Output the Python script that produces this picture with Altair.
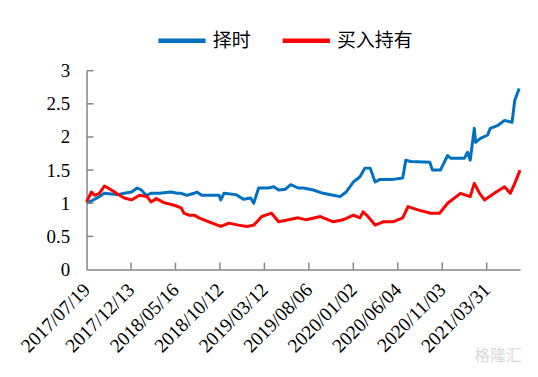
import altair as alt
import pandas as pd

# trading-day index (x) and net value readings for each series
timing_day = [0, 7, 18, 29, 40, 56, 69, 85, 101, 114, 123, 134, 145, 163, 190, 204, 213, 226,
              242, 248, 259, 275, 298, 302, 309, 336, 353, 369, 376, 387, 409, 421, 432, 447,
              459, 476, 488, 510, 532, 555, 570, 584, 600, 615, 626, 638, 649, 660, 689, 711,
              718, 729, 772, 778, 796, 812, 819, 850, 857, 863, 872, 875, 886, 902, 908, 924,
              940, 957, 963, 973]
timing_val = [1.00, 1.02, 1.06, 1.10, 1.15, 1.14, 1.13, 1.15, 1.17, 1.23, 1.20, 1.12, 1.15, 1.15,
              1.17, 1.15, 1.15, 1.12, 1.15, 1.17, 1.12, 1.12, 1.12, 1.05, 1.15, 1.13, 1.06, 1.08,
              1.00, 1.23, 1.23, 1.25, 1.20, 1.21, 1.28, 1.23, 1.23, 1.20, 1.15, 1.12, 1.10, 1.17,
              1.32, 1.40, 1.53, 1.53, 1.32, 1.36, 1.36, 1.38, 1.65, 1.63, 1.62, 1.50, 1.50, 1.72,
              1.68, 1.68, 1.77, 1.65, 2.13, 1.92, 1.98, 2.03, 2.13, 2.17, 2.25, 2.22, 2.55, 2.73]

hold_day = [0, 11, 18, 29, 40, 51, 63, 74, 85, 101, 119, 136, 145, 157, 174, 197, 213, 219,
            230, 242, 253, 275, 302, 320, 342, 360, 376, 394, 416, 432, 454, 476, 494, 526,
            555, 577, 600, 615, 622, 633, 649, 667, 689, 711, 723, 745, 774, 794, 812, 841,
            863, 872, 884, 895, 917, 940, 953, 963, 975]
hold_val = [1.02, 1.17, 1.12, 1.15, 1.26, 1.22, 1.17, 1.12, 1.08, 1.05, 1.12, 1.10, 1.02, 1.07,
            1.01, 0.97, 0.93, 0.85, 0.82, 0.82, 0.78, 0.72, 0.65, 0.70, 0.67, 0.65, 0.67, 0.80,
            0.85, 0.72, 0.75, 0.78, 0.75, 0.80, 0.72, 0.75, 0.82, 0.78, 0.87, 0.80, 0.67, 0.72,
            0.72, 0.78, 0.95, 0.90, 0.85, 0.85, 1.00, 1.15, 1.10, 1.30, 1.15, 1.05, 1.15, 1.25,
            1.15, 1.30, 1.50]

series_names = ["择时", "买入持有"]
series_colors = ["#0070C0", "#FF0000"]

tick_days = [0, 100, 200, 300, 400, 500, 600, 700, 800, 900]
tick_labels = ["2017/07/19", "2017/12/13", "2018/05/16", "2018/10/12", "2019/03/12",
               "2019/08/06", "2020/01/02", "2020/06/04", "2020/11/03", "2021/03/31"]
y_ticks = [0, 0.5, 1, 1.5, 2, 2.5, 3]

df = pd.concat([
    pd.DataFrame({"day": timing_day, "value": timing_val, "series": series_names[0], "order": 0}),
    pd.DataFrame({"day": hold_day, "value": hold_val, "series": series_names[1], "order": 1}),
])

label_expr = "[" + ",".join(f"'{s}'" for s in tick_labels) + "][round(datum.value/100)]"
serif = "'Liberation Serif', 'Times New Roman', serif"

x_scale = alt.Scale(domain=[0, 975], nice=False, zero=False)
y_scale = alt.Scale(domain=[0, 3], nice=False)

x_axis = alt.Axis(values=tick_days, labelExpr=label_expr, title=None, ticks=False,
                  grid=False, labelAngle=-45, labelAlign="right", labelBaseline="middle",
                  labelPadding=17, labelFont=serif, labelFontSize=19.5,
                  labelColor="#000000", domainColor="#868686", domainWidth=1.5,
                  labelOverlap=False, labelBound=False, labelFlush=False)
y_axis = alt.Axis(values=y_ticks, format="~g", title=None, ticks=False, grid=False,
                  labelPadding=17, labelFont=serif, labelFontSize=19,
                  labelOverlap=False, labelFlush=False, labelBound=False,
                  labelColor="#000000", domainColor="#868686", domainWidth=1.5)

lines = alt.Chart(df).mark_line(strokeWidth=3, strokeJoin="round").encode(
    x=alt.X("day:Q", scale=x_scale, axis=x_axis),
    y=alt.Y("value:Q", scale=y_scale, axis=y_axis),
    color=alt.Color("series:N",
                    scale=alt.Scale(domain=series_names, range=series_colors),
                    legend=alt.Legend(title=None, orient="none", legendX=70, legendY=-56,
                                      direction="horizontal", symbolType="stroke",
                                      symbolSize=2250, symbolStrokeWidth=4.5,
                                      labelFont="Noto Sans CJK SC", labelFontSize=19,
                                      labelColor="#000000", labelOffset=5, columnPadding=22,
                                      padding=0)),
    detail="series:N",
    order=alt.Order("order:Q"),
)

xtick_df = pd.DataFrame({"day": tick_days[1:]})
xticks = alt.Chart(xtick_df).mark_rule(color="#868686", strokeWidth=1.5).encode(
    x=alt.X("day:Q", scale=x_scale, axis=x_axis),
    y=alt.value(200),
    y2=alt.value(193),
)

ytick_df = pd.DataFrame({"value": y_ticks[1:]})
yticks = alt.Chart(ytick_df).mark_rule(color="#868686", strokeWidth=1.5).encode(
    y=alt.Y("value:Q", scale=y_scale, axis=y_axis),
    x=alt.value(0),
    x2=alt.value(7),
)

wm = alt.Chart(pd.DataFrame({"t": ["格隆汇"]})).mark_text(
    font="Noto Sans CJK SC", fontSize=16, color="#d9d9d9", align="left", baseline="middle"
).encode(text="t:N", x=alt.value(390), y=alt.value(287))

chart = alt.layer(lines, xticks, yticks, wm).properties(
    width=436, height=200,
    autosize=alt.AutoSizeParams(type="none"),
    padding={"left": 79, "top": 62, "right": 10, "bottom": 100},
).configure_view(stroke=None)

chart.save("out.html", embed_options={"renderer": "svg", "actions": False})
